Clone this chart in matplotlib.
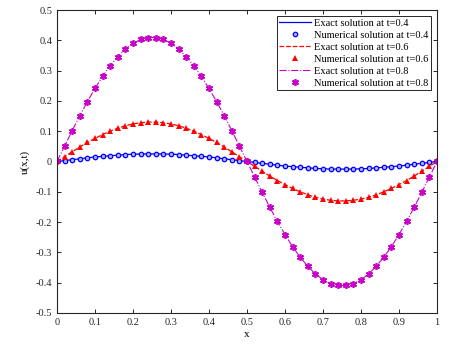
import numpy as np
import matplotlib
matplotlib.use("Agg")
import matplotlib.pyplot as plt

plt.rcParams['font.family'] = ['Liberation Serif', 'DejaVu Serif']
plt.rcParams['mathtext.fontset'] = 'stix'

# x grid (51 nodes on [0,1])
x = np.linspace(0, 1, 51)

u_t04 = [0.000, 0.003, 0.006, 0.009, 0.012, 0.015, 0.017, 0.019, 0.021, 0.023,
         0.024, 0.025, 0.025, 0.025, 0.025, 0.024, 0.023, 0.021, 0.019, 0.017,
         0.015, 0.012, 0.009, 0.006, 0.003, 0.000,
         -0.003, -0.006, -0.009, -0.012, -0.015, -0.017, -0.019, -0.021, -0.023,
         -0.024, -0.025, -0.025, -0.025, -0.025, -0.024, -0.023, -0.021, -0.019,
         -0.017, -0.015, -0.012, -0.009, -0.006, -0.003, 0.000]

u_t06 = [0.000, 0.016, 0.032, 0.048, 0.063, 0.076, 0.089, 0.100, 0.110, 0.118,
         0.124, 0.128, 0.130, 0.130, 0.128, 0.124, 0.118, 0.110, 0.100, 0.089,
         0.076, 0.063, 0.048, 0.032, 0.016, 0.000,
         -0.016, -0.032, -0.048, -0.063, -0.076, -0.089, -0.100, -0.110, -0.118,
         -0.124, -0.128, -0.130, -0.130, -0.128, -0.124, -0.118, -0.110, -0.100,
         -0.089, -0.076, -0.063, -0.048, -0.032, -0.016, 0.000]

u_t08 = [0.000, 0.051, 0.102, 0.151, 0.198, 0.241, 0.281, 0.316, 0.346, 0.371,
         0.390, 0.403, 0.409, 0.409, 0.403, 0.390, 0.371, 0.346, 0.316, 0.281,
         0.241, 0.198, 0.151, 0.102, 0.051, 0.000,
         -0.051, -0.102, -0.151, -0.198, -0.241, -0.281, -0.316, -0.346, -0.371,
         -0.390, -0.403, -0.409, -0.409, -0.403, -0.390, -0.371, -0.346, -0.316,
         -0.281, -0.241, -0.198, -0.151, -0.102, -0.051, 0.000]

xticks = [0, 0.1, 0.2, 0.3, 0.4, 0.5, 0.6, 0.7, 0.8, 0.9, 1]
xticklabels = ['0', '0.1', '0.2', '0.3', '0.4', '0.5', '0.6', '0.7', '0.8', '0.9', '1']
yticks = [-0.5, -0.4, -0.3, -0.2, -0.1, 0, 0.1, 0.2, 0.3, 0.4, 0.5]
yticklabels = ['-0.5', '-0.4', '-0.3', '-0.2', '-0.1', '0', '0.1', '0.2', '0.3', '0.4', '0.5']

blue = '#0000ff'
red = '#ff0000'
mag = '#c800c8'

fig = plt.figure(figsize=(4.65, 3.47), dpi=100)
ax = fig.add_axes([57/465, 1 - 313/347, (437 - 57)/465, (313 - 10)/347])

ax.plot(x, u_t04, '-', color=blue, lw=0.9, label='Exact solution at t=0.4')
ax.plot(x, u_t04, 'o', color=blue, mfc='#b0b0ff', mec=blue, ms=3.2, mew=0.9,
        label='Numerical solution at t=0.4')
ax.plot(x, u_t06, '--', color=red, lw=0.9, label='Exact solution at t=0.6')
ax.plot(x, u_t06, '^', color=red, ms=4.2, mew=0, label='Numerical solution at t=0.6')
ax.plot(x, u_t08, '-.', color=mag, lw=0.8, label='Exact solution at t=0.8')
ax.plot(x, u_t08, marker=(6, 2, 0), ls='none', color=mag, ms=5, mew=1.2,
        label='Numerical solution at t=0.8')

ax.set_xlim(0, 1)
ax.set_ylim(-0.5, 0.5)
ax.set_xticks(xticks)
ax.set_xticklabels(xticklabels)
ax.set_yticks(yticks)
ax.set_yticklabels(yticklabels)
ax.tick_params(direction='in', length=3, width=0.7, labelsize=7.5, top=True, right=True,
               colors='#262626')
for s in ax.spines.values():
    s.set_linewidth(0.8)
    s.set_color('#262626')
ax.set_xlabel('x', fontsize=8, labelpad=2)
ax.set_ylabel('u(x,t)', fontsize=8, labelpad=4)

leg = ax.legend(loc='upper right', fontsize=7.5, frameon=True, fancybox=False,
                edgecolor='#262626', framealpha=1, handlelength=3.0, handletextpad=0.3,
                borderpad=0.25, labelspacing=0.25, borderaxespad=0.6)
leg.get_frame().set_linewidth(0.7)

fig.savefig('out.png', dpi=100)
